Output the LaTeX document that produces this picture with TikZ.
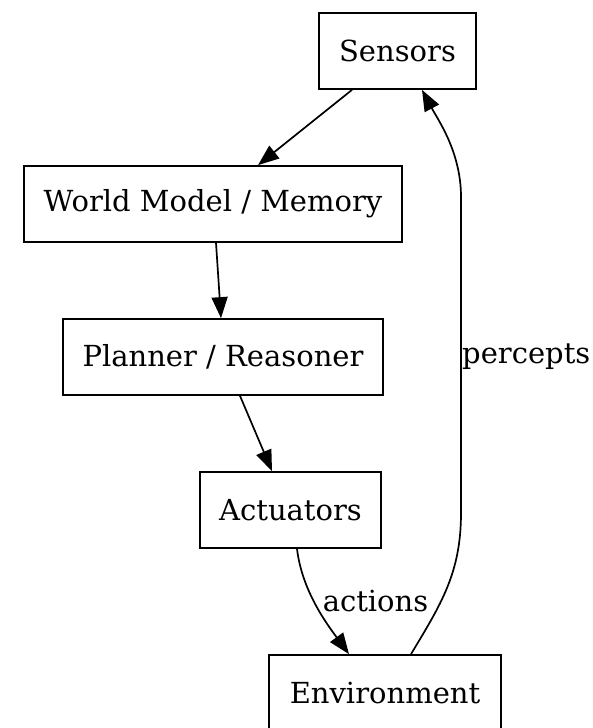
\documentclass[tikz,border=0pt]{standalone}
\usepackage{fontspec}
\setmainfont{DejaVu Serif}
\usetikzlibrary{arrows.meta}
\begin{document}
\begin{tikzpicture}[x=1pt,y=-1pt,
  box/.style={draw, line width=1.7pt, inner sep=0pt, minimum height=76pt,
    font=\fontsize{29}{34}\selectfont},
  edge/.style={line width=1.7pt, -{Triangle[length=21pt,width=16pt]}},
  lbl/.style={font=\fontsize{29}{34}\selectfont, inner sep=0pt}]
\useasboundingbox (0,0) rectangle (592,728);
\node[box, minimum width=157pt] (s) at (397.5,51) {Sensors};
\node[box, minimum width=378pt] (w) at (213,204) {World Model / Memory};
\node[box, minimum width=320pt] (p) at (223,357) {Planner / Reasoner};
\node[box, minimum width=181pt] (a) at (290.5,510) {Actuators};
\node[box, minimum width=232pt] (e) at (385,693) {Environment};

\draw[edge] ([xshift=-45.5pt]s.south) -- ([xshift=45pt]w.north);
\draw[edge] ([xshift=3pt]w.south) -- ([xshift=-2pt]p.north);
\draw[edge] ([xshift=17pt]p.south) -- ([xshift=-18.5pt]a.north);
\draw[edge] ([xshift=6.5pt]a.south) .. controls +(5,42) and +(-22,-30) .. ([xshift=-36pt]e.north);
\node[lbl] (al) at (375.5,601) {actions};
\draw[edge] ([xshift=26pt]e.north) .. controls +(30,-50) and +(0,60) .. (461,513)
  -- (461,197) .. controls +(0,-45) and +(16,30) .. ([xshift=24.5pt]s.south);
\node[lbl, anchor=west] (pl) at (462,357) {percepts};
\end{tikzpicture}
\end{document}
